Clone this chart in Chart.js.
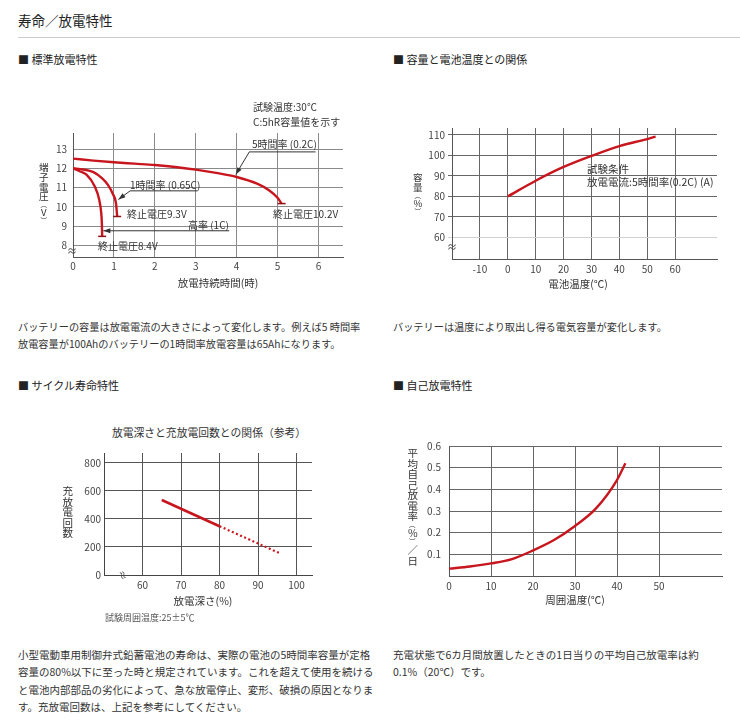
<!DOCTYPE html>
<html lang="ja">
<head>
<meta charset="utf-8">
<script src="https://cdn.jsdelivr.net/npm/chart.js@4.4.1/dist/chart.umd.min.js"></script>
<style>
body{margin:0;background:#fff;font-family:"Noto Sans CJK JP",sans-serif;color:#333;}
#page{position:relative;width:740px;height:723px;overflow:hidden;}
canvas{position:absolute;}
.t{position:absolute;white-space:nowrap;line-height:1.2;transform:translateY(-50%);}
.c{transform:translate(-50%,-50%);}
.v{position:absolute;writing-mode:vertical-rl;text-orientation:upright;white-space:nowrap;line-height:1;transform:translateX(-50%);}
.pr{font-size:6.5px;}
.p{font-size:10.2px;color:#333;}
.q{font-size:10.5px;color:#333;}
.s{font-size:11px;color:#222;}
.lbl{font-size:10px;color:#333;}
.sq{position:absolute;font-size:10px;color:#444;line-height:1;}
</style>
</head>
<body>
<div id="page">
  <canvas id="c1" width="340" height="190" style="left:20px;top:100px"></canvas>
  <canvas id="c2" width="330" height="180" style="left:400px;top:110px"></canvas>
  <canvas id="c3" width="270" height="160" style="left:60px;top:440px"></canvas>
  <canvas id="c4" width="335" height="170" style="left:400px;top:430px"></canvas>

  <div class="t" style="left:18px;top:20px;font-size:13.5px;color:#222">寿命／放電特性</div>
  <div style="position:absolute;left:18px;top:37px;width:722px;height:1px;background:#ccc"></div>

  <div class="t s" style="left:18px;top:60px">■ 標準放電特性</div>
  <div class="t s" style="left:393px;top:60px">■ 容量と電池温度との関係</div>

  <!-- chart 1 labels -->
  <div class="t lbl" style="left:253px;top:107px">試験温度:30℃</div>
  <div class="t lbl" style="left:253px;top:122px">C:5hR容量値を示す</div>
  <div class="t lbl" style="left:252px;top:144px">5時間率 (0.2C)</div>
  <div class="t lbl" style="left:130px;top:185px">1時間率 (0.65C)</div>
  <div class="t lbl" style="left:188px;top:225px">高率 (1C)</div>
  <div class="t lbl" style="left:127px;top:214px">終止電圧9.3V</div>
  <div class="t lbl" style="left:273px;top:214px">終止電圧10.2V</div>
  <div class="t lbl" style="left:98px;top:246px">終止電圧8.4V</div>
  <div class="v lbl" style="left:43px;top:163px;font-size:9.6px">端子電圧<span class="pr">︵</span>V<span class="pr">︶</span></div>
  <div class="t c lbl" style="left:218px;top:283px;font-size:10.5px">放電持続時間(時)</div>
  <div class="sq" style="left:67px;top:246px">≈</div>

  <!-- chart 2 labels -->
  <div class="t lbl" style="left:587px;top:169px;font-size:10.5px">試験条件</div>
  <div class="t lbl" style="left:587px;top:182px;font-size:10.5px">放電電流:5時間率(0.2C) (A)</div>
  <div class="v lbl" style="left:417px;top:173px;font-size:9.6px">容量<span class="pr">︵</span>%<span class="pr">︶</span></div>
  <div class="t c lbl" style="left:578px;top:284px;font-size:10.5px">電池温度(℃)</div>
  <div class="sq" style="left:447px;top:242px">≈</div>

  <div class="t p" style="left:18px;top:327px">バッテリーの容量は放電電流の大きさによって変化します。例えば5 時間率</div>
  <div class="t p" style="left:18px;top:344px">放電容量が100Ahのバッテリーの1時間率放電容量は65Ahになります。</div>
  <div class="t p" style="left:393px;top:327px">バッテリーは温度により取出し得る電気容量が変化します。</div>

  <div class="t s" style="left:18px;top:386px">■ サイクル寿命特性</div>
  <div class="t s" style="left:393px;top:386px">■ 自己放電特性</div>

  <!-- chart 3 labels -->
  <div class="t c" style="left:209px;top:432px;font-size:10.8px;color:#333">放電深さと充放電回数との関係（参考）</div>
  <div class="v lbl" style="left:67px;top:486px;font-size:10.5px">充放電回数</div>
  <div class="t c lbl" style="left:203px;top:601px;font-size:10.5px">放電深さ(%)</div>
  <div class="t" style="left:105px;top:618px;font-size:9px;color:#555">試験周囲温度:25±5℃</div>
  <div class="sq" style="left:118px;top:570px;transform:rotate(70deg)">≈</div>

  <!-- chart 4 labels -->
  <div class="v lbl" style="left:412px;top:448px;font-size:10.5px">平均自己放電率<span class="pr">︵</span>%<span class="pr">︶</span>／日</div>
  <div class="t c lbl" style="left:575px;top:600px;font-size:10.5px">周囲温度(℃)</div>

  <div class="t q" style="left:18px;top:655px">小型電動車用制御弁式鉛蓄電池の寿命は、実際の電池の5時間率容量が定格</div>
  <div class="t q" style="left:18px;top:672px">容量の80%以下に至った時と規定されています。これを超えて使用を続ける</div>
  <div class="t q" style="left:18px;top:690px">と電池内部部品の劣化によって、急な放電停止、変形、破損の原因となりま</div>
  <div class="t q" style="left:18px;top:707px">す。充放電回数は、上記を参考にしてください。</div>
  <div class="t q" style="left:393px;top:655px">充電状態で6カ月間放置したときの1日当りの平均自己放電率は約</div>
  <div class="t q" style="left:393px;top:672px">0.1%（20℃）です。</div>
</div>

<script>
// standard discharge (hours, volts)
const hours5h = [0, 0.5, 1, 1.5, 2, 2.5, 3, 3.5, 4, 4.5, 4.8, 5, 5.1];
const volts5h = [12.5, 12.4, 12.31, 12.24, 12.17, 12.07, 11.93, 11.76, 11.55, 11.2, 10.85, 10.47, 10.17];
const hours1h = [0, 0.25, 0.5, 0.7, 0.85, 0.98, 1.05, 1.08];
const volts1h = [12.0, 11.94, 11.8, 11.5, 11.15, 10.64, 10.2, 9.5];
const hours1c = [0, 0.15, 0.33, 0.53, 0.64, 0.69, 0.705, 0.713];
const volts1c = [12.0, 11.86, 11.67, 11.07, 10.38, 9.69, 9.17, 8.47];
const hourTicks = [0, 1, 2, 3, 4, 5, 6];
const voltTicks = [8, 9, 10, 11, 12, 13];

// capacity vs battery temperature
const batteryTemp = [0, 10, 20, 30, 40, 50, 53];
const capacity = [80, 87.7, 94.4, 99.8, 104.6, 108.0, 109.2];
const tempTicks = [-10, 0, 10, 20, 30, 40, 50, 60];
const capTicks = [60, 70, 80, 90, 100, 110];

// cycle life
const depthSolid = [65, 80];
const cyclesSolid = [535, 348];
const depthDotted = [80, 95.4];
const cyclesDotted = [348, 158];
const depthTicks = [60, 70, 80, 90, 100];
const cycleTicks = [0, 200, 400, 600, 800];

// self discharge
const ambientTemp = [0, 5, 10, 15, 20, 25, 30, 35, 40, 42];
const selfRate = [0.034, 0.044, 0.058, 0.078, 0.118, 0.166, 0.231, 0.312, 0.443, 0.52];
const ambientTicks = [0, 10, 20, 30, 40, 50];
const rateTicks = [0.1, 0.2, 0.3, 0.4, 0.5, 0.6];

// leader lines of chart 1, in data units
const leaders = [
  { from: [5.93, 12.85], elbow: [4.31, 12.85], tip: [3.98, 11.68] },
  { from: [3.045, 10.83], elbow: [1.396, 10.83], tip: [1.11, 10.38] },
  { from: [3.82, 8.76], elbow: [3.82, 8.76], tip: [0.742, 8.76] }
];

const RED = '#c8161e';
Chart.defaults.font.family = '"Noto Sans CJK JP", sans-serif';
Chart.defaults.font.size = 10;
Chart.defaults.color = '#444';

const pts = (xs, ys) => xs.map((v, i) => ({ x: v, y: ys[i] }));

const leaderPlugin = {
  id: 'leaders',
  afterDatasetsDraw(chart) {
    const { ctx } = chart;
    const sx = chart.scales.x, sy = chart.scales.y;
    const px = p => [sx.getPixelForValue(p[0]), sy.getPixelForValue(p[1])];
    ctx.save();
    ctx.strokeStyle = '#333';
    ctx.fillStyle = '#333';
    ctx.lineWidth = 1;
    leaders.forEach(l => {
      const a = px(l.from), b = px(l.elbow), c = px(l.tip);
      ctx.beginPath();
      ctx.moveTo(a[0], a[1]);
      ctx.lineTo(b[0], b[1]);
      ctx.lineTo(c[0], c[1]);
      ctx.stroke();
      const ang = Math.atan2(c[1] - b[1], c[0] - b[0]);
      const cs = Math.cos(ang), sn = Math.sin(ang);
      ctx.beginPath();
      ctx.moveTo(c[0], c[1]);
      ctx.lineTo(c[0] - 7 * cs + 2.5 * sn, c[1] - 7 * sn - 2.5 * cs);
      ctx.lineTo(c[0] - 7 * cs - 2.5 * sn, c[1] - 7 * sn + 2.5 * cs);
      ctx.closePath();
      ctx.fill();
    });
    // end-voltage stops
    ctx.strokeStyle = '#8c1016';
    ctx.lineWidth = 1.5;
    chart.data.datasets.forEach((ds, i) => {
      const d = chart.getDatasetMeta(i).data;
      const last = d[d.length - 1];
      ctx.beginPath();
      ctx.moveTo(last.x - 4, last.y);
      ctx.lineTo(last.x + 4, last.y);
      ctx.stroke();
    });
    ctx.restore();
  }
};

function makeChart(id, datasets, o) {
  return new Chart(document.getElementById(id), {
    type: 'line',
    data: { datasets: datasets },
    options: {
      responsive: false,
      animation: false,
      layout: { padding: { left: 0, top: o.top, right: o.right, bottom: 0 } },
      plugins: { legend: { display: false }, tooltip: { enabled: false } },
      elements: {
        point: { radius: 0 },
        line: { borderColor: RED, borderWidth: 2.4, cubicInterpolationMode: 'monotone', fill: false }
      },
      scales: {
        x: {
          type: 'linear', min: o.xMin, max: o.xMax,
          afterBuildTicks: s => { s.ticks = o.xTicks.map(v => ({ value: v })); },
          afterFit: s => { s.height = o.xh; },
          ticks: { padding: o.xPad, autoSkip: false, maxRotation: 0, callback: v => String(v) },
          grid: { color: o.grid, drawTicks: false },
          border: { color: o.axis, width: 1 }
        },
        y: {
          type: 'linear', min: o.yMin, max: o.yMax,
          afterBuildTicks: s => { s.ticks = o.yTicks.map(v => ({ value: v })); },
          afterFit: s => { s.width = o.yw; },
          ticks: { padding: o.yPad, autoSkip: false, callback: v => String(v) },
          grid: { color: o.yGrid || o.grid, drawTicks: !!o.tickLen, tickLength: o.tickLen || 0 },
          border: { color: o.axis, width: 1 }
        }
      }
    },
    plugins: o.plugins || []
  });
}

makeChart('c1', [
  { data: pts(hours5h, volts5h) },
  { data: pts(hours1h, volts1h) },
  { data: pts(hours1c, volts1c) }
], {
  top: 33, right: 17, yw: 53, xh: 33,
  xMin: 0, xMax: 6.6, yMin: 7.4, yMax: 13.83,
  xTicks: hourTicks, yTicks: voltTicks,
  xPad: 3, yPad: 6, grid: '#8a8a8a', axis: '#555',
  plugins: [leaderPlugin]
});

makeChart('c2', [
  { data: pts(batteryTemp, capacity) }
], {
  top: 18, right: 13, yw: 52, xh: 31,
  xMin: -20, xMax: 75, yMin: 49.5, yMax: 113.4,
  xTicks: tempTicks, yTicks: capTicks,
  xPad: 4.5, yPad: 3, tickLen: 4,
  grid: '#666', yGrid: ctx => (ctx.tick && ctx.tick.value === 60 ? '#d0d0d0' : '#666'), axis: '#555'
});

makeChart('c3', [
  { data: pts(depthSolid, cyclesSolid), cubicInterpolationMode: 'default', tension: 0, borderWidth: 2.6 },
  { data: pts(depthDotted, cyclesDotted), cubicInterpolationMode: 'default', tension: 0, borderWidth: 2.2, borderDash: [2, 2.5] }
], {
  top: 13, right: 18, yw: 44, xh: 25,
  xMin: 50, xMax: 104, yMin: 0, yMax: 870,
  xTicks: depthTicks, yTicks: cycleTicks,
  xPad: 4, yPad: 3, grid: '#555', axis: '#444'
});

makeChart('c4', [
  { data: pts(ambientTemp, selfRate) }
], {
  top: 16, right: 13, yw: 49, xh: 24,
  xMin: 0, xMax: 65, yMin: 0, yMax: 0.6,
  xTicks: ambientTicks, yTicks: rateTicks,
  xPad: 4, yPad: 8, grid: '#666', axis: '#555'
});
</script>
</body>
</html>
